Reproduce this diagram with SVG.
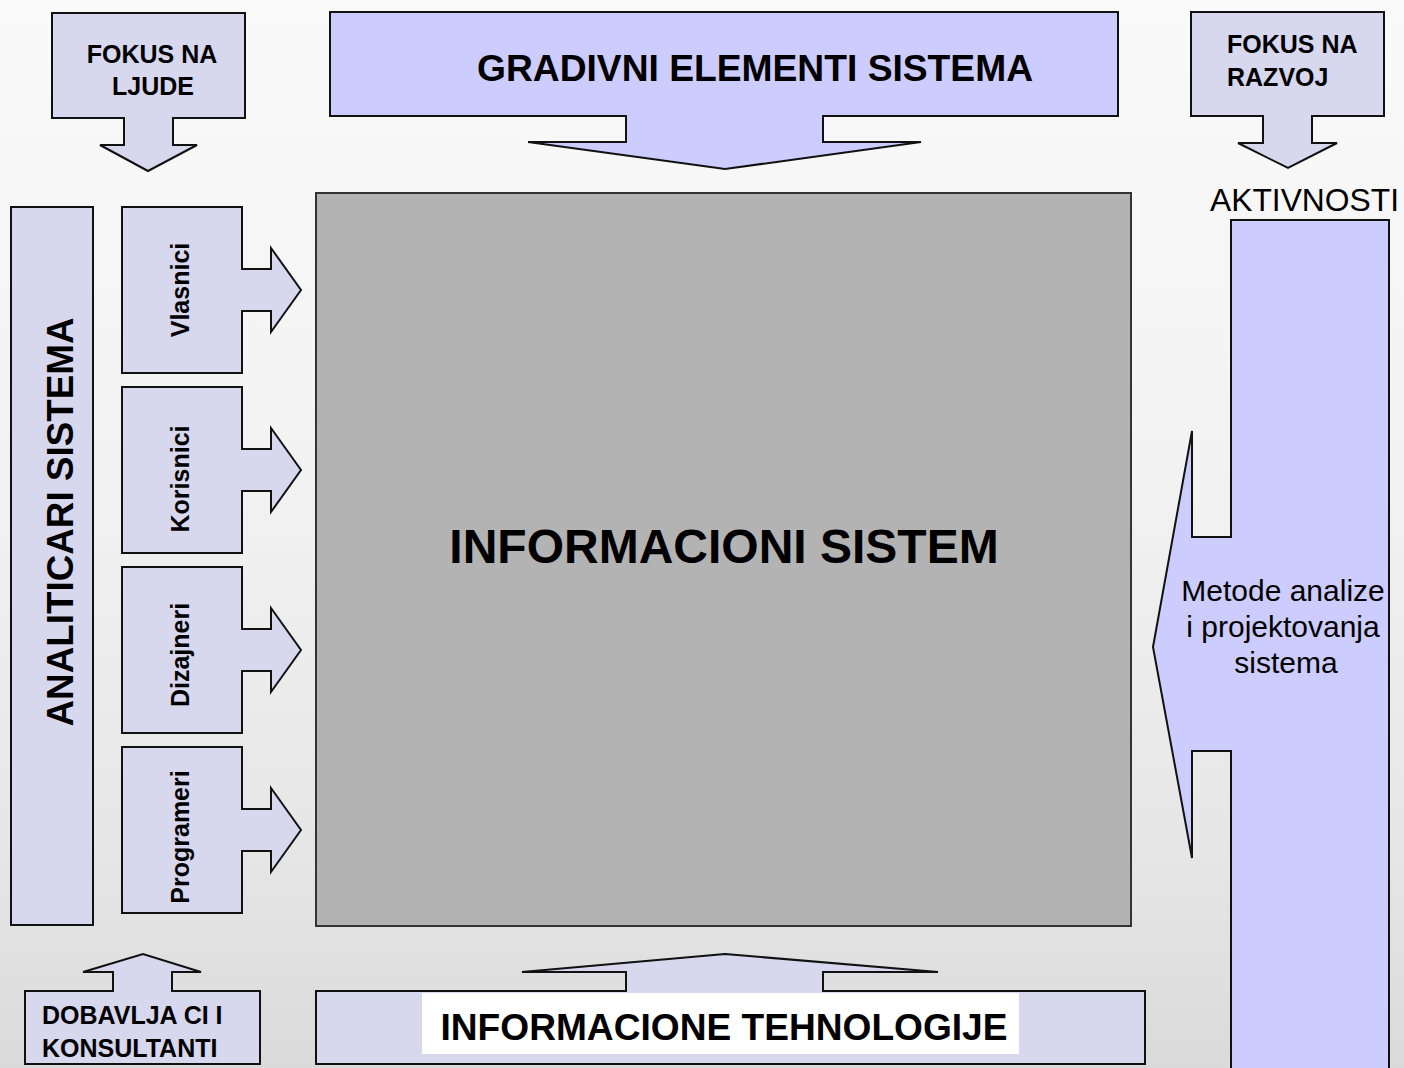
<svg xmlns="http://www.w3.org/2000/svg" width="1404" height="1068" viewBox="0 0 1404 1068">
<defs>
<linearGradient id="bg" x1="0" y1="0" x2="0" y2="1">
<stop offset="0" stop-color="#fafafa"/>
<stop offset="0.45" stop-color="#f2f2f2"/>
<stop offset="0.8" stop-color="#e6e6e6"/>
<stop offset="1" stop-color="#dadada"/>
</linearGradient>
<style>
.pale{fill:#d7d7ed;stroke:#111;stroke-width:2;stroke-linejoin:miter}
.blue{fill:#ccccff;stroke:#111;stroke-width:2;stroke-linejoin:miter}
.gray{fill:#b3b3b3;stroke:#333;stroke-width:2}
.b{font-family:"Liberation Sans",Arial,sans-serif;font-weight:bold;fill:#000}
.r{font-family:"Liberation Sans",Arial,sans-serif;fill:#000}
</style>
</defs>
<rect x="0" y="0" width="1404" height="1068" fill="url(#bg)"/>

<g id="sistem">
<rect class="gray" x="316" y="193" width="815" height="733"/>
<text class="b" x="724" y="563" font-size="48" text-anchor="middle">INFORMACIONI SISTEM</text>
</g>

<g id="fokus-ljude">
<path class="pale" d="M52,13 H245 V118 H173 V145 H197 L148,171 L100,145 H124 V118 H52 Z"/>
<text class="b" x="152" y="63" font-size="25" text-anchor="middle">FOKUS NA</text>
<text class="b" x="153" y="95" font-size="25" text-anchor="middle">LJUDE</text>
</g>

<g id="gradivni">
<path class="blue" d="M330,12 H1118 V116 H823 V142 H921 L725,169 L528,142 H626 V116 H330 Z"/>
<text class="b" x="755" y="81" font-size="37" text-anchor="middle" textLength="556" lengthAdjust="spacingAndGlyphs">GRADIVNI ELEMENTI SISTEMA</text>
</g>

<g id="fokus-razvoj">
<path class="pale" d="M1191,12 H1384 V116 H1312 V143 H1337 L1288,168 L1238,143 H1263 V116 H1191 Z"/>
<text class="b" x="1227" y="53" font-size="25">FOKUS NA</text>
<text class="b" x="1227" y="86" font-size="25">RAZVOJ</text>
</g>

<g id="aktivnosti">
<text class="r" x="1210" y="211" font-size="31" textLength="189" lengthAdjust="spacingAndGlyphs">AKTIVNOSTI</text>
</g>

<g id="metode">
<path class="blue" d="M1231,220 H1389 V1080 H1231 V751 H1192 V858 L1153,647 L1192,431 V537 H1231 Z"/>
<text class="r" x="1283" y="601" font-size="30" text-anchor="middle">Metode analize</text>
<text class="r" x="1283" y="637" font-size="30" text-anchor="middle">i projektovanja</text>
<text class="r" x="1286" y="673" font-size="30" text-anchor="middle">sistema</text>
</g>

<g id="analiticari">
<rect class="pale" x="11" y="207" width="82" height="718"/>
<text class="b" transform="translate(73,522) rotate(-90)" font-size="36" text-anchor="middle" textLength="409" lengthAdjust="spacingAndGlyphs">ANALITICARI SISTEMA</text>
</g>

<g id="vlasnici">
<path class="pale" d="M122,207 H242 V269 H271 V248 L301,290 L271,332 V311 H242 V373 H122 Z"/>
<text class="b" transform="translate(189,290) rotate(-90)" font-size="25" text-anchor="middle">Vlasnici</text>
</g>

<g id="korisnici">
<path class="pale" d="M122,387 H242 V449 H271 V428 L301,470 L271,512 V491 H242 V553 H122 Z"/>
<text class="b" transform="translate(189,479) rotate(-90)" font-size="25" text-anchor="middle">Korisnici</text>
</g>

<g id="dizajneri">
<path class="pale" d="M122,567 H242 V629 H271 V608 L301,650 L271,692 V671 H242 V733 H122 Z"/>
<text class="b" transform="translate(189,655) rotate(-90)" font-size="25" text-anchor="middle">Dizajneri</text>
</g>

<g id="programeri">
<path class="pale" d="M122,747 H242 V809 H271 V788 L301,830 L271,872 V851 H242 V913 H122 Z"/>
<text class="b" transform="translate(189,837) rotate(-90)" font-size="25" text-anchor="middle">Programeri</text>
</g>

<g id="dobavljaci">
<path class="pale" d="M25,991 H113 V972 H83 L143,954 L201,972 H172 V991 H260 V1064 H25 Z"/>
<text class="b" x="42" y="1024" font-size="25">DOBAVLJA CI I</text>
<text class="b" x="42" y="1057" font-size="25">KONSULTANTI</text>
</g>

<g id="tehnologije">
<path class="pale" d="M316,991 H626 V972 H522 L725,954 L938,972 H823 V991 H1145 V1064 H316 Z"/>
<rect x="422" y="993" width="597" height="61" fill="#ffffff"/>
<text class="b" x="724" y="1040" font-size="37" text-anchor="middle" textLength="567" lengthAdjust="spacingAndGlyphs">INFORMACIONE TEHNOLOGIJE</text>
</g>

<g id="connectors"></g>
</svg>
